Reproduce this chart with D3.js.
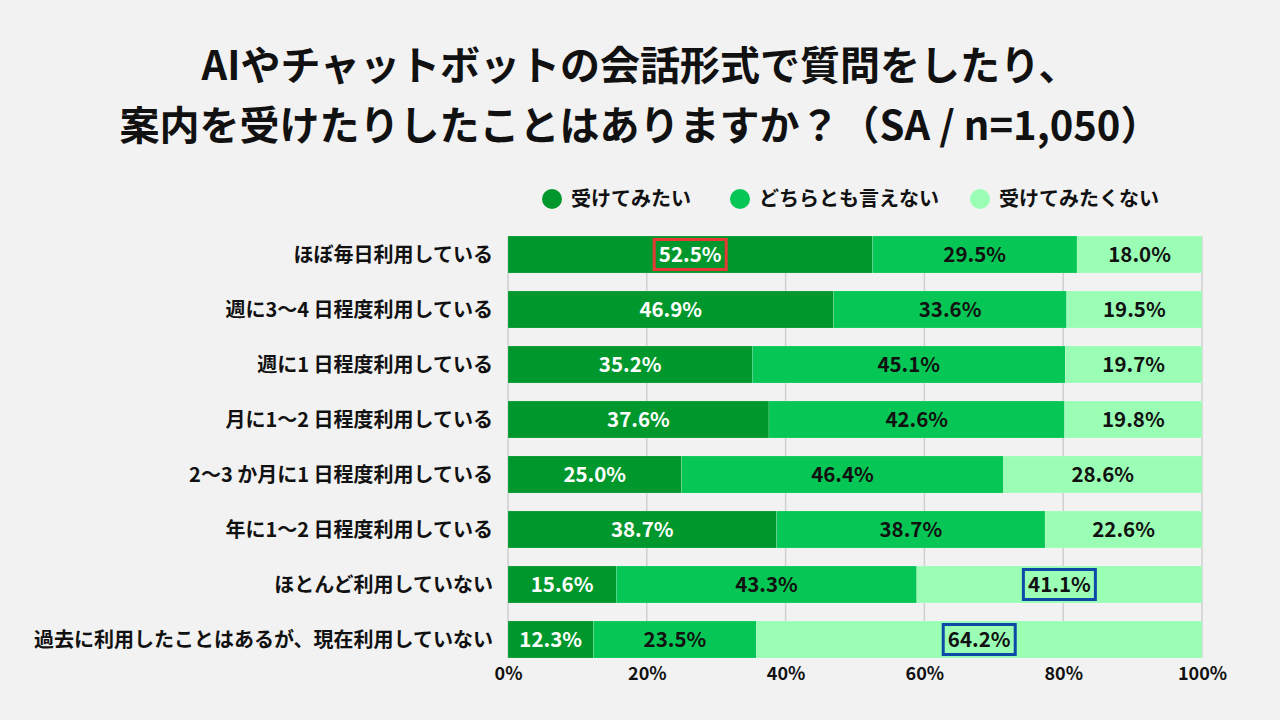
<!DOCTYPE html>
<html><head><meta charset="utf-8">
<script src="https://cdn.jsdelivr.net/npm/d3@7/dist/d3.min.js"></script>
<style>
body{margin:0;background:#f2f2f2;}
svg{display:block;font-family:"Noto Sans CJK JP","Noto Sans",sans-serif;}
</style></head>
<body><svg id="c" width="1280" height="720"></svg>
<script>
const titleLines = ["AIやチャットボットの会話形式で質問をしたり、", "案内を受けたりしたことはありますか？（SA / n=1,050）"];
const categories = ["ほぼ毎日利用している","週に3〜4 日程度利用している","週に1 日程度利用している","月に1〜2 日程度利用している","2〜3 か月に1 日程度利用している","年に1〜2 日程度利用している","ほとんど利用していない","過去に利用したことはあるが、現在利用していない"];
const seriesNames = ["受けてみたい","どちらとも言えない","受けてみたくない"];
const wantValues = [52.5,46.9,35.2,37.6,25.0,38.7,15.6,12.3];
const neutralValues = [29.5,33.6,45.1,42.6,46.4,38.7,43.3,23.5];
const notWantValues = [18.0,19.5,19.7,19.8,28.6,22.6,41.1,64.2];
const tickValues = [0,20,40,60,80,100];
const highlights = [{row:0, s:0, color:"#e53935"},{row:6, s:2, color:"#0d4aa8"},{row:7, s:2, color:"#0d4aa8"}];
const colors = ["#00982c","#06c755","#9bfeb5"];
const textColors = ["#ffffff","#111111","#111111"];

const svg = d3.select("#c");
svg.append("rect").attr("width",1280).attr("height",720).attr("fill","#f2f2f2");

svg.selectAll("text.title").data(titleLines).join("text")
  .attr("x",640).attr("y",(d,i)=>80+i*60).attr("text-anchor","middle")
  .attr("font-size",40).attr("font-weight",700).attr("fill","#111").text(d=>d);

const x = d3.scaleLinear().domain([0,100]).range([508,1202]);
const y = d3.scaleBand().domain(categories).range([227,667]).paddingInner(0.327).paddingOuter(0.1636);

// legend
const legX = [552,740,980];
const leg = svg.selectAll("g.leg").data(seriesNames).join("g").attr("transform",(d,i)=>`translate(${legX[i]},199)`);
leg.append("circle").attr("r",10).attr("fill",(d,i)=>colors[i]);
leg.append("text").attr("x",19).attr("dy","0.36em").attr("font-size",20).attr("font-weight",700).attr("fill","#111").text(d=>d);

// grid
const yTop = y(categories[0]), yBot = y(categories[categories.length-1])+y.bandwidth();
svg.selectAll("line.grid").data(tickValues).join("line")
  .attr("x1",d=>x(d)).attr("x2",d=>x(d)).attr("y1",yTop).attr("y2",yBot)
  .attr("stroke","#cfcfcf").attr("stroke-width",1.5);

// stacked data
const rows = categories.map((c,i)=>({cat:c, vals:[wantValues[i],neutralValues[i],notWantValues[i]]}));
const segs = [];
rows.forEach((r,ri)=>{let acc=0; r.vals.forEach((v,si)=>{segs.push({cat:r.cat,row:ri,s:si,x0:acc,x1:acc+v,v}); acc+=v;});});

svg.selectAll("rect.seg").data(segs).join("rect")
  .attr("x",d=>x(d.x0)).attr("width",d=>x(Math.min(d.x1,100))-x(d.x0))
  .attr("y",d=>y(d.cat)).attr("height",y.bandwidth())
  .attr("fill",d=>colors[d.s]).attr("stroke","#ffffff").attr("stroke-opacity",0.25).attr("stroke-width",0.6);

svg.selectAll("text.val").data(segs).join("text")
  .attr("x",d=>x((d.x0+Math.min(d.x1,100))/2)).attr("y",d=>y(d.cat)+y.bandwidth()/2)
  .attr("dy","0.36em").attr("text-anchor","middle").attr("font-size",20.5).attr("font-weight",700)
  .attr("fill",d=>textColors[d.s]).text(d=>d.v.toFixed(1)+"%");

// highlight boxes
highlights.forEach(h=>{
  const d = segs.find(s=>s.row===h.row && s.s===h.s);
  const cx = x((d.x0+Math.min(d.x1,100))/2), cy = y(d.cat)+y.bandwidth()/2;
  svg.append("rect").attr("x",cx-36).attr("y",cy-15).attr("width",72).attr("height",30)
    .attr("fill","none").attr("stroke",h.color).attr("stroke-width",3);
});

// category labels
svg.selectAll("text.cat").data(categories).join("text")
  .attr("x",493).attr("y",d=>y(d)+y.bandwidth()/2).attr("dy","0.36em")
  .attr("text-anchor","end").attr("font-size",20).attr("font-weight",700).attr("fill","#111").text(d=>d);

// x axis
const ax = svg.append("g").attr("transform",`translate(0,${yBot})`)
  .call(d3.axisBottom(x).tickValues(tickValues).tickSize(0).tickPadding(9).tickFormat(d=>d+"%"));
ax.select(".domain").remove();
ax.selectAll("text").attr("font-size",18).attr("font-weight",700).attr("fill","#111")
  .attr("font-family",'"Noto Sans CJK JP","Noto Sans",sans-serif');
</script></body></html>
